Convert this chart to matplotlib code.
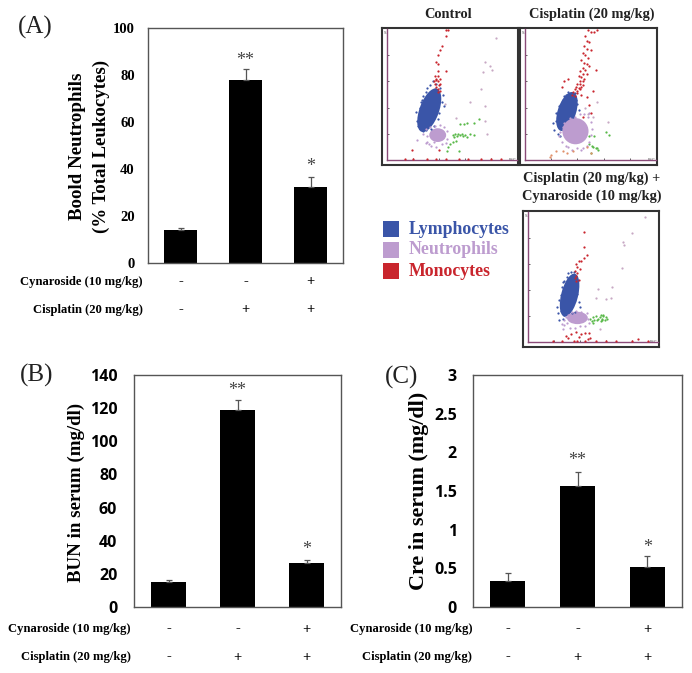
import matplotlib
matplotlib.use("Agg")
import matplotlib.pyplot as plt
from matplotlib.patches import Ellipse, Rectangle

W, H = 692, 673
SERIF = "Liberation Serif"
SANS = "Open Sans"

# Bar chart values
a_means = [14, 78, 32.5]
a_err = [0.8, 4.5, 4]
a_ticks = [0, 20, 40, 60, 80, 100]
b_means = [15, 119, 26.5]
b_err = [1, 6, 1.8]
b_ticks = [0, 20, 40, 60, 80, 100, 120, 140]
c_means = [0.34, 1.56, 0.52]
c_err = [0.1, 0.19, 0.14]
c_ticks = [0, 0.5, 1, 1.5, 2, 2.5, 3]
c_tick_labels = ["0", "0.5", "1", "1.5", "2", "2.5", "3"]
stars = ["", "**", "*"]
cynaroside = ["-", "-", "+"]
cisplatin = ["-", "+", "+"]

# Scatter panels, axes run 0-100
# Dense clouds: x, y, long axis, short axis, angle
ctrl_lymph = (32.5, 38, 35, 15, 70)
ctrl_neut = (39, 19, 13, 10.5, 0)
cis_lymph = (32, 37, 31, 14, 72)
cis_neut = (38.5, 22, 20, 20, 0)
both_lymph = (32, 36, 34, 13, 76)
both_neut = (38, 18.5, 16, 9.5, 0)

ctrl_red_x = [45, 47, 45, 42, 41, 39.5, 37.5, 39.5, 39, 45, 37, 39.5, 37.5, 41, 36, 39.5, 41, 38, 39.5, 41, 37, 38, 40, 39, 14, 20, 31, 38, 45, 55, 62, 72, 80, 88, 19, 40]
ctrl_red_y = [99, 99, 95, 87, 84, 80, 75, 73, 68, 68, 64, 64, 62, 62, 60, 60, 58, 56, 54, 53, 58, 61, 57, 52, 0.5, 0.5, 1, 0.5, 0.5, 0.5, 1, 0.5, 0.5, 1, 8, 8]
ctrl_blue_x = [22, 23, 24, 25, 25, 26, 27, 27, 28, 30, 31, 33, 34, 36, 37, 38, 39, 40, 41, 42, 43, 44, 35, 30, 28, 26]
ctrl_blue_y = [37, 30, 26, 40, 27, 44, 46, 24, 49, 52, 55, 57, 24, 26, 54, 58, 31, 36, 55, 44, 50, 41, 60, 23, 22, 35]
ctrl_neut_x = [23, 28, 30, 31, 32, 33, 31, 34, 37, 41, 44, 46, 46, 45, 42, 38, 30, 36]
ctrl_neut_y = [15, 20, 24, 14, 12, 25, 18, 11, 26, 27, 25, 22, 16, 13, 12, 10, 13, 14]
ctrl_green_x = [50.5, 51.5, 52.6, 53.6, 54.9, 56.2, 57.5, 58.8, 60, 61.9, 63.9, 67, 59.3, 61.9, 67, 56.2, 71, 48.5, 47.2, 45.9, 51, 53, 55]
ctrl_green_y = [18.8, 17.5, 19.6, 18, 20, 18.8, 19.6, 18, 18.8, 17.5, 20, 18.8, 27.8, 28.4, 28.6, 27.3, 31, 11.9, 9.8, 7.2, 13.7, 14.4, 7.2]
ctrl_grey_x = [84, 75, 74, 79, 81, 72, 64, 75, 53, 75.5, 44.6, 77]
ctrl_grey_y = [93, 75, 67, 72, 68.5, 54, 44.6, 41, 32, 30, 43, 20]

cis_red_x = [48, 50, 53, 55, 46, 47, 49, 45, 47, 50, 44, 46, 48, 43, 45, 47, 49, 44, 46, 42, 44, 47, 41, 43, 45, 42, 44, 40, 42, 44, 39, 41, 43, 38, 40, 42, 37, 40, 43, 33, 30, 28, 52, 54, 36, 38, 47, 49, 50, 44]
cis_red_y = [99, 98, 98, 99, 95, 91, 90, 87, 85, 84, 82, 80, 78, 76, 74, 73, 72, 70, 69, 68, 66, 66, 64, 63, 62, 60, 60, 58, 58, 57, 56, 55, 56, 54, 53, 54, 52, 51, 50, 62, 60, 56, 53, 69, 50, 49, 48, 42, 36, 33]
cis_orange_x = [20, 24, 29, 37, 19, 32, 50, 47]
cis_orange_y = [4, 7, 6.5, 7, 2, 5, 5, 10]
cis_blue_x = [21, 22, 24, 25, 26, 27, 28, 29, 30, 31, 33, 35, 37, 38, 39, 40, 41, 37, 24, 26]
cis_blue_y = [28, 23, 36, 20, 41, 18, 44, 46, 49, 50, 52, 51, 50, 51, 46, 43, 38, 33, 30, 37]
cis_neut_x = [26, 28, 29, 31, 33, 36, 40, 44, 47, 49, 50, 51, 50, 48, 45, 42, 38, 34, 30, 27, 43, 49]
cis_neut_y = [18, 14, 25, 11, 10, 8, 9, 9, 11, 14, 19, 24, 29, 33, 35, 35, 33, 32, 28, 21, 8, 36]
cis_green_x = [49, 53, 62, 64, 49, 51, 55, 50, 56, 52, 54]
cis_green_y = [18, 18.5, 21, 19, 12, 11, 9, 5, 8, 10, 9]
cis_grey_x = [63, 52, 48, 55, 46]
cis_grey_y = [29, 33, 35, 44, 40]

both_red_x = [43, 43, 45, 43, 41, 39, 38, 37, 36, 40, 38, 37, 36, 39, 37, 29, 31, 33, 37, 39, 41, 44, 47, 48, 46, 38, 19, 26, 35, 44, 52, 60, 68, 80, 85, 92]
both_red_y = [85, 73, 67, 65, 62, 62, 58, 60, 55, 56, 53, 51, 49, 48, 47, 5, 3, 6, 8, 4, 6, 7, 7, 3, 2, 1, 1, 0.5, 1, 1, 0.5, 1, 0.5, 1, 2, 0.5]
both_blue_x = [22, 23, 24, 25, 25, 26, 27, 28, 28, 30, 31, 33, 35, 37, 38, 38, 39, 40, 36, 34, 27, 24]
both_blue_y = [27, 22, 32, 36, 24, 42, 46, 47, 21, 50, 53, 54, 54, 50, 46, 37, 31, 27, 23, 22, 18, 17]
both_neut_x = [26, 28, 27, 29, 31, 34, 37, 41, 45, 46, 47, 44, 40, 36, 32, 28, 30]
both_neut_y = [14, 13, 10, 19, 21, 23, 24, 23, 22, 18, 15, 12, 12, 11, 11, 17, 15]
both_green_x = [48, 49, 50, 51, 50, 52, 54, 55, 56, 57, 58, 59, 60, 61, 56, 58, 53, 57]
both_green_y = [18, 16, 19, 17, 15, 20, 18, 19, 21, 18, 20, 17, 19, 18, 16, 21, 17, 17]
both_grey_x = [90, 80, 73, 74, 72, 54, 65, 52, 60, 64, 55]
both_grey_y = [96, 84, 77, 75, 57, 41, 42, 34, 33, 34, 10]

BLUE = "#3a55a8"
PURPLE = "#bd9ccf"
RED = "#c9252d"
GREEN = "#58b848"
GREY = "#c8a8c4"
ORANGE = "#e0906a"
FRAME = "#555555"


def px_axes(fig, left, top, right, bottom):
    return fig.add_axes([left / W, 1 - bottom / H, (right - left) / W, (bottom - top) / H])


def bar_panel(fig, box, means, err, ticks, tick_labels, ymax, tick_font, tick_size, pad, star_gaps, label_x, rows):
    ax = px_axes(fig, *box)
    x = list(range(3))
    ax.bar(x, means, width=0.5, color="black")
    ax.errorbar(x, means, yerr=[[0, 0, 0], err], fmt="none", ecolor="#555555",
                elinewidth=0.9, capsize=2.5, capthick=0.9)
    ax.set_xlim(-0.5, 2.5)
    ax.set_ylim(0, ymax)
    ax.set_xticks([])
    ax.set_yticks(ticks)
    ax.set_yticklabels(tick_labels, fontfamily=tick_font, fontweight="bold", fontsize=tick_size)
    ax.tick_params(axis="y", length=0, pad=pad)
    for s in ax.spines.values():
        s.set_color(FRAME)
        s.set_linewidth(1.0)
    for i in x:
        ax.annotate(stars[i], (i, means[i] + err[i]), xytext=(0, star_gaps[i]), textcoords="offset pixels",
                    ha="center", va="center", fontsize=13, color="#444444", fontfamily=SERIF)
    for name, vals, y in rows:
        ov.text(label_x, y, name, ha="right", va="center", fontsize=9.1, fontweight="bold", fontfamily=SERIF)
        for i in x:
            ax.annotate(vals[i], (i, 0), xytext=(0, box[3] - y), textcoords="offset pixels", ha="center",
                        va="center", fontsize=10.5, fontweight="bold", fontfamily=SERIF,
                        annotation_clip=False)
    return ax


def cloud(ax, spec, color):
    ax.add_patch(Ellipse(spec[:2], spec[2], spec[3], angle=spec[4], color=color, lw=0, zorder=3))


def flow_panel(fig, box, lymph, neut, groups):
    # black outer frame
    left, top, right, bottom = box
    frame = px_axes(fig, left, top, right, bottom)
    frame.set_xticks([])
    frame.set_yticks([])
    for s in frame.spines.values():
        s.set_color("#333333")
        s.set_linewidth(1.5)
    frame.text(0.015, 0.965, "S", transform=frame.transAxes, fontsize=3, color="#555555", va="center")
    frame.text(0.96, 0.035, "FSC", transform=frame.transAxes, fontsize=3, color="#555555", ha="center", va="center")

    ax = px_axes(fig, left + 5, top + 1, right - 1, bottom - 5)
    ax.patch.set_alpha(0)
    ax.set_xlim(0, 100)
    ax.set_ylim(0, 100)
    for s in ["top", "right"]:
        ax.spines[s].set_visible(False)
    for s in ["left", "bottom"]:
        ax.spines[s].set_color("#8a4a78")
        ax.spines[s].set_linewidth(1.0)
    ax.set_xticks([20, 40, 60, 80])
    ax.set_yticks([20, 40, 60, 80])
    ax.set_xticklabels([])
    ax.set_yticklabels([])
    ax.tick_params(length=1.5, width=0.6, color="#444444", direction="in")
    cloud(ax, lymph, BLUE)
    cloud(ax, neut, PURPLE)
    for xs, ys, color in groups:
        ax.scatter(xs, ys, s=2.6, color=color, linewidths=0, zorder=4, clip_on=False)


fig = plt.figure(figsize=(W / 100, H / 100), dpi=100)
ov = fig.add_axes([0, 0, 1, 1])
ov.set_xlim(0, W)
ov.set_ylim(H, 0)
ov.axis("off")

# Panel letters
for txt, x, y in [("(A)", 18, 27), ("(B)", 20, 375), ("(C)", 385, 377)]:
    ov.text(x, y, txt, fontsize=18, fontfamily=SERIF, va="center", ha="left", color="#222222")

c_name = "Cynaroside (10 mg/kg)"
p_name = "Cisplatin (20 mg/kg)"
bar_panel(fig, (148, 28, 343, 263), a_means, a_err, a_ticks, [str(t) for t in a_ticks], 100, SERIF, 10.5, 9.5,
          [0, 9, 11], 143, [(c_name, cynaroside, 282), (p_name, cisplatin, 310)])
bar_panel(fig, (134, 375, 341, 607), b_means, b_err, b_ticks, [str(t) for t in b_ticks], 140, SANS, 11.5, 12,
          [0, 9, 11], 131, [(c_name, cynaroside, 629), (p_name, cisplatin, 657)])
bar_panel(fig, (473, 375, 682, 607), c_means, c_err, c_ticks, c_tick_labels, 3, SANS, 11.5, 11.5,
          [0, 11, 8], 472, [(c_name, cynaroside, 629), (p_name, cisplatin, 657)])

# y axis titles
ov.text(78, 146, "Boold Neutrophils", rotation=90, ha="center", va="center", fontsize=13.6, fontweight="bold", fontfamily=SERIF)
ov.text(101, 146, "(% Total Leukocytes)", rotation=90, ha="center", va="center", fontsize=13.6, fontweight="bold", fontfamily=SERIF)
ov.text(76, 492, "BUN in serum (mg/dl)", rotation=90, ha="center", va="center", fontsize=13.6, fontweight="bold", fontfamily=SERIF)
ov.text(419, 491, "Cre in serum (mg/dl)", rotation=90, ha="center", va="center", fontsize=15.9, fontweight="bold", fontfamily=SERIF)

# Flow cytometry panels
flow_panel(fig, (382, 28, 518, 165), ctrl_lymph, ctrl_neut,
           [(ctrl_grey_x, ctrl_grey_y, GREY), (ctrl_green_x, ctrl_green_y, GREEN), (ctrl_blue_x, ctrl_blue_y, BLUE),
            (ctrl_neut_x, ctrl_neut_y, PURPLE), (ctrl_red_x, ctrl_red_y, RED)])
flow_panel(fig, (520, 28, 657, 165), cis_lymph, cis_neut,
           [(cis_grey_x, cis_grey_y, GREY), (cis_green_x, cis_green_y, GREEN), (cis_blue_x, cis_blue_y, BLUE),
            (cis_neut_x, cis_neut_y, PURPLE), (cis_orange_x, cis_orange_y, ORANGE), (cis_red_x, cis_red_y, RED)])
flow_panel(fig, (523, 211, 659, 347), both_lymph, both_neut,
           [(both_grey_x, both_grey_y, GREY), (both_green_x, both_green_y, GREEN), (both_blue_x, both_blue_y, BLUE),
            (both_neut_x, both_neut_y, PURPLE), (both_red_x, both_red_y, RED)])

for txt, x, y in [("Control", 448, 14), ("Cisplatin (20 mg/kg)", 592, 14),
                  ("Cisplatin (20 mg/kg) +", 592, 178), ("Cynaroside (10 mg/kg)", 592, 196)]:
    ov.text(x, y, txt, ha="center", va="center", fontsize=10.4, fontweight="bold", fontfamily=SERIF, color="#222222")

# Legend
for txt, color, y in [("Lymphocytes", BLUE, 229), ("Neutrophils", PURPLE, 250), ("Monocytes", RED, 271)]:
    ov.add_patch(Rectangle((383, y - 8), 16, 16, color=color, lw=0))
    ov.text(409, y, txt, ha="left", va="center", fontsize=12.8, fontweight="bold", fontfamily=SERIF, color=color)

fig.savefig("out.png", dpi=100)
